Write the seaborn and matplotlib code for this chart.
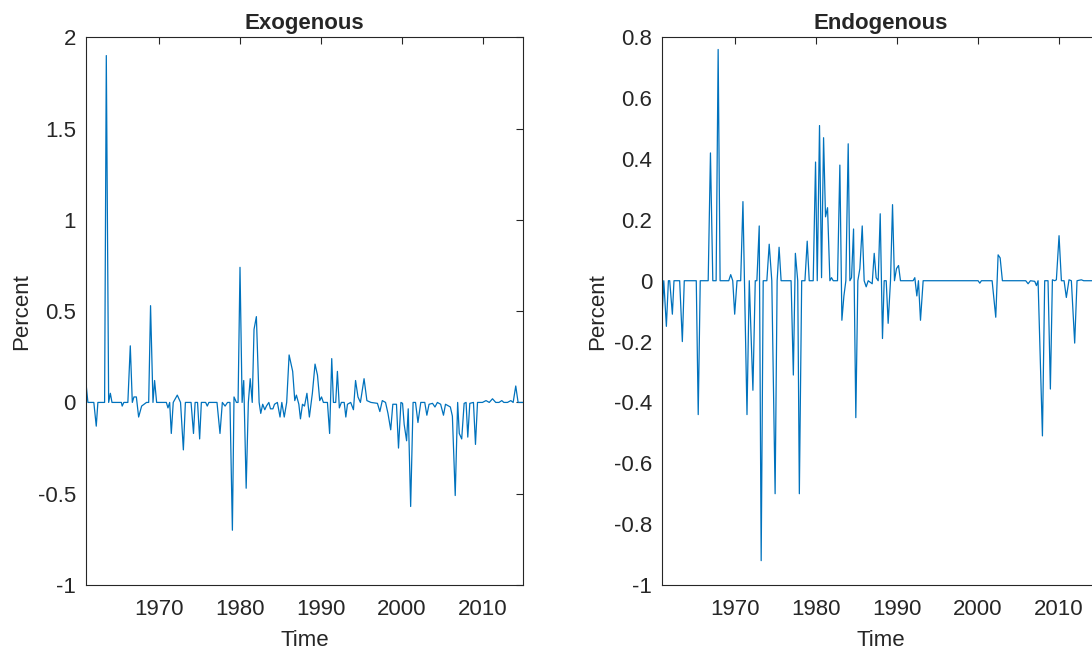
import numpy as np
import pandas as pd
import seaborn as sns
import matplotlib.pyplot as plt
from matplotlib.ticker import FuncFormatter

# vertices (decimal year, percent)
exo_t = [1961.0, 1961.27, 1962.0, 1962.3, 1962.5, 1963.33, 1963.54, 1963.83, 1964.04, 1964.24,
         1965.4, 1965.5, 1965.7, 1966.2, 1966.5, 1966.75, 1966.95, 1967.25, 1967.53, 1967.9,
         1968.5, 1968.77, 1969.0, 1969.3, 1969.5, 1969.75, 1970.95, 1971.15, 1971.36, 1971.56,
         1971.8, 1972.3, 1972.7, 1973.05, 1973.3, 1974.0, 1974.3, 1974.5, 1974.8, 1975.06,
         1975.27, 1975.8, 1976.0, 1976.2, 1977.2, 1977.57, 1977.86, 1978.2, 1978.5, 1978.8,
         1979.1, 1979.3, 1979.6, 1979.8, 1980.04, 1980.3, 1980.5, 1980.8, 1981.07, 1981.3,
         1981.55, 1981.77, 1982.06, 1982.4, 1982.6, 1982.84, 1983.1, 1983.3, 1983.6, 1983.8,
         1984.1, 1984.3, 1984.65, 1984.98, 1985.2, 1985.5, 1985.8, 1986.1, 1986.54, 1986.8,
         1987.0, 1987.3, 1987.5, 1987.75, 1988.0, 1988.3, 1988.6, 1988.97, 1989.3, 1989.6,
         1989.88, 1990.1, 1990.33, 1990.83, 1991.1, 1991.36, 1991.57, 1991.85, 1992.06, 1992.3,
         1992.55, 1992.9, 1993.1, 1993.3, 1993.7, 1994.04, 1994.3, 1994.6, 1994.9, 1995.35,
         1995.7, 1996.2, 1997.0, 1997.3, 1997.6, 1998.0, 1998.3, 1998.64, 1998.9, 1999.35,
         1999.6, 1999.9, 2000.1, 2000.3, 2000.6, 2000.8, 2001.1, 2001.4, 2001.7, 2002.0,
         2002.35, 2002.84, 2003.1, 2003.37, 2003.8, 2004.1, 2004.4, 2004.8, 2005.15, 2005.4,
         2006.0, 2006.25, 2006.6, 2006.9, 2007.1, 2007.4, 2007.7, 2007.94, 2008.15, 2008.4,
         2008.85, 2009.1, 2009.35, 2009.96, 2010.4, 2010.8, 2011.2, 2011.6, 2012.0, 2012.35,
         2012.6, 2013.05, 2013.46, 2013.75, 2014.07, 2014.36, 2015.0]
exo_v = [0.12, 0, 0, -0.13, 0, 0, 1.90, 0, 0.05, 0,
         0, -0.02, 0, 0, 0.31, 0, 0.03, 0.03, -0.08, -0.02,
         0, 0, 0.53, 0, 0.12, 0, 0, -0.03, 0, -0.17,
         0, 0.04, 0, -0.26, 0, 0, -0.17, 0, 0, -0.20,
         0, 0, -0.02, 0, 0, -0.17, 0, -0.02, 0, 0,
         -0.70, 0.03, 0, 0, 0.74, 0, 0.12, -0.47, 0, 0.13,
         0, 0.40, 0.47, 0, -0.06, -0.01, -0.04, -0.02, 0, -0.035,
         -0.035, -0.01, 0, -0.08, 0, -0.08, 0, 0.26, 0.17, 0.01,
         0.04, -0.01, -0.09, -0.01, -0.02, 0.05, -0.08, 0.05, 0.21, 0.15,
         0.01, 0.03, 0, 0, -0.17, 0.24, 0, 0, 0.17, -0.03,
         0, 0, -0.08, -0.01, 0, -0.04, 0.12, 0.03, 0, 0.13,
         0.01, 0, -0.005, -0.05, 0.01, 0, -0.06, -0.15, -0.01, -0.01,
         -0.25, 0, -0.005, -0.12, -0.21, -0.035, -0.57, 0, 0, -0.11,
         0, 0, -0.07, -0.01, -0.005, -0.025, 0, -0.01, -0.07, -0.01,
         -0.025, -0.075, -0.51, 0, -0.17, -0.20, -0.005, 0, -0.19, -0.005,
         0, -0.23, 0, 0, 0.01, 0, 0.02, 0, 0, 0.01,
         0, 0, 0.01, 0, 0.09, 0, 0]

endo_t = [1961.0, 1961.25, 1961.57, 1961.82, 1961.98, 1962.31, 1962.51, 1963.21, 1963.54, 1963.78,
          1965.26, 1965.5, 1965.75, 1966.73, 1967.01, 1967.3, 1967.71, 1967.96, 1968.2, 1969.27,
          1969.51, 1969.76, 1970.0, 1970.29, 1970.74, 1971.02, 1971.52, 1971.8, 1972.25, 1972.54,
          1972.74, 1973.03, 1973.27, 1973.52, 1973.97, 1974.26, 1974.58, 1974.99, 1975.24, 1975.48,
          1975.73, 1976.96, 1977.24, 1977.49, 1977.78, 1977.98, 1978.27, 1978.67, 1978.95, 1979.2,
          1979.69, 1979.98, 1980.19, 1980.47, 1980.72, 1980.97, 1981.21, 1981.46, 1981.75, 1981.95,
          1982.16, 1982.69, 1982.98, 1983.23, 1983.48, 1983.72, 1984.01, 1984.22, 1984.42, 1984.67,
          1984.95, 1985.2, 1985.45, 1985.74, 1985.98, 1986.23, 1986.48, 1986.72, 1986.97, 1987.22,
          1987.46, 1987.71, 1987.96, 1988.24, 1988.45, 1988.7, 1988.94, 1989.23, 1989.48, 1989.72,
          1989.97, 1990.22, 1990.46, 1992.02, 1992.23, 1992.48, 1992.68, 1992.93, 1993.26, 2000.04,
          2000.25, 2000.45, 2001.77, 2002.22, 2002.51, 2002.76, 2003.04, 2005.92, 2006.21, 2006.5,
          2007.03, 2007.24, 2007.44, 2007.98, 2008.26, 2008.67, 2008.96, 2009.21, 2009.5, 2009.7,
          2010.03, 2010.32, 2010.65, 2010.93, 2011.26, 2011.55, 2011.96, 2012.25, 2012.78, 2013.07,
          2015.0]
endo_v = [-0.14, 0, -0.15, 0, 0, -0.11, 0, 0, -0.20, 0,
          0, -0.44, 0, 0, 0.42, 0, 0, 0.76, 0, 0,
          0.02, 0, -0.11, 0, 0, 0.26, -0.44, 0, -0.36, 0,
          0, 0.18, -0.92, 0, 0, 0.12, 0, -0.70, 0, 0.11,
          0, 0, -0.31, 0.09, 0, -0.70, 0, 0, 0.13, 0,
          0, 0.39, 0, 0.51, 0.01, 0.47, 0.21, 0.24, 0, 0.01,
          0, 0, 0.38, -0.13, -0.05, 0, 0.45, 0, 0.01, 0.17,
          -0.45, 0, 0.04, 0.18, 0, -0.02, 0, -0.005, -0.01, 0.09,
          0.01, 0, 0.22, -0.19, 0, 0, -0.14, 0, 0.25, 0,
          0.04, 0.05, 0, 0, 0.01, -0.05, 0, -0.13, 0, 0,
          -0.008, 0, 0, -0.12, 0.085, 0.075, 0, 0, -0.01, 0,
          -0.002, -0.016, 0, -0.51, 0, 0, -0.356, 0.003, 0, 0.003,
          0.148, 0, 0, -0.055, 0.003, 0, -0.205, 0, 0.003, 0,
          0]

panels = ['Exogenous', 'Endogenous']
exo_yticks = [-1, -0.5, 0, 0.5, 1, 1.5, 2]
endo_yticks = [-1, -0.8, -0.6, -0.4, -0.2, 0, 0.2, 0.4, 0.6, 0.8]
xticks = [1970, 1980, 1990, 2000, 2010]

sns.set_theme(style='white')
plt.rcParams['font.family'] = ['Liberation Sans', 'DejaVu Sans']
plt.rcParams['axes.unicode_minus'] = False

fig = plt.figure(figsize=(10.92, 6.51), dpi=100)
ax1 = fig.add_axes([0.0785, 0.1014, 0.4007, 0.8413])
ax2 = fig.add_axes([0.606, 0.1014, 0.4007, 0.8413])

df_exo = pd.DataFrame({'Time': exo_t, 'Percent': exo_v})
df_endo = pd.DataFrame({'Time': endo_t, 'Percent': endo_v})

for ax, df, name, yt in [(ax1, df_exo, panels[0], exo_yticks), (ax2, df_endo, panels[1], endo_yticks)]:
    sns.lineplot(data=df, x='Time', y='Percent', ax=ax, color='#0072BD',
                 linewidth=0.9, estimator=None, sort=False)
    ax.set_xlim(1961, 2015)
    ax.set_ylim(yt[0], yt[-1])
    ax.set_xticks(xticks)
    ax.set_yticks(yt)
    ax.yaxis.set_major_formatter(FuncFormatter(lambda v, p: '%g' % v))
    ax.tick_params(direction='in', length=5, width=0.8, color='#262626',
                   labelsize=16, labelcolor='#262626', top=True, right=True)
    ax.tick_params(axis='y', pad=7)
    ax.tick_params(axis='x', pad=10)
    for s in ax.spines.values():
        s.set_color('#262626')
        s.set_linewidth(0.8)
    ax.set_title(name, fontsize=16, fontweight='bold', pad=6)
    ax.set_xlabel('Time', fontsize=16, color='#262626', labelpad=7)
    ax.set_ylabel('Percent', fontsize=16, color='#262626', labelpad=4)

fig.savefig('out.png', dpi=100, facecolor='white')
